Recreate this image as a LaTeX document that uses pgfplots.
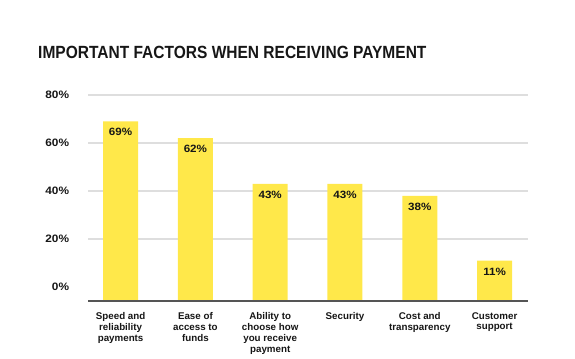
\documentclass[border=0pt]{standalone}
\usepackage{pgfplots}
\pgfplotsset{compat=1.18}
\usepackage{fontspec}
\setmainfont{Liberation Sans}
\newfontfamily\titlefont[FakeStretch=0.88]{Liberation Sans}
\newfontfamily\numfont[FakeStretch=1.1]{Liberation Sans}
\definecolor{baryellow}{RGB}{255,232,74}
\definecolor{txt}{RGB}{22,22,22}
\definecolor{gridc}{RGB}{222,222,222}
\definecolor{basec}{RGB}{85,85,85}
\begin{document}
\begin{tikzpicture}
\useasboundingbox (0,0) rectangle (575bp,359bp);
\node[anchor=base west, inner sep=0pt, text=txt, font=\titlefont\bfseries\fontsize{17.7}{20}\selectfont] at (38bp,300bp) {IMPORTANT FACTORS WHEN RECEIVING PAYMENT};
\begin{axis}[
  at={(88bp,58bp)}, anchor=south west,
  scale only axis, width=440bp, height=206bp,
  y coord trafo/.code={\pgfmathparse{#1+5.8333}},
  y coord inv trafo/.code={\pgfmathparse{#1-5.8333}},
  ymin=-5.8333, ymax=80,
  xmin=-0.436, xmax=5.447,
  ybar, bar width=35bp,
  axis line style={draw=none},
  major tick length=0pt,
  ytick={20,40,60,80},
  yticklabels={20\%,40\%,60\%,80\%},
  extra y ticks={0},
  extra y tick labels={0\%},
  extra y tick style={grid=none},
  ymajorgrids,
  grid style={draw=gridc, line width=1.2bp},
  yticklabel style={anchor=east, inner sep=0pt, xshift=-18.7bp, text=txt, font=\numfont\bfseries\fontsize{10.8}{12}\selectfont},
  xtick={0,1,2,3,4,5},
  xticklabels={{Speed and\\reliability\\payments},{Ease of\\access to\\funds},{Ability to\\choose how\\you receive\\payment},{Security},{Cost and\\transparency},{Customer\\support}},
  xticklabel style={anchor=north, align=center, inner sep=0pt, yshift=-11bp, text=txt, font=\bfseries\fontsize{9.8}{11}\selectfont},
  point meta=explicit symbolic,
  nodes near coords,
  every node near coord/.append style={anchor=north, inner sep=0pt, yshift=-7bp, text=txt, font=\numfont\bfseries\fontsize{10.6}{12}\selectfont},
  clip=false,
]
\addplot[fill=baryellow, draw=none] coordinates {
  (0,69) [69\%]
  (1,62) [62\%]
  (2,43) [43\%]
  (3,43) [43\%]
  (4,38) [38\%]
  (5,11) [11\%]
};
\draw[basec, line width=1.3bp] (rel axis cs:0,0) -- (rel axis cs:1,0);
\end{axis}
\end{tikzpicture}
\end{document}
